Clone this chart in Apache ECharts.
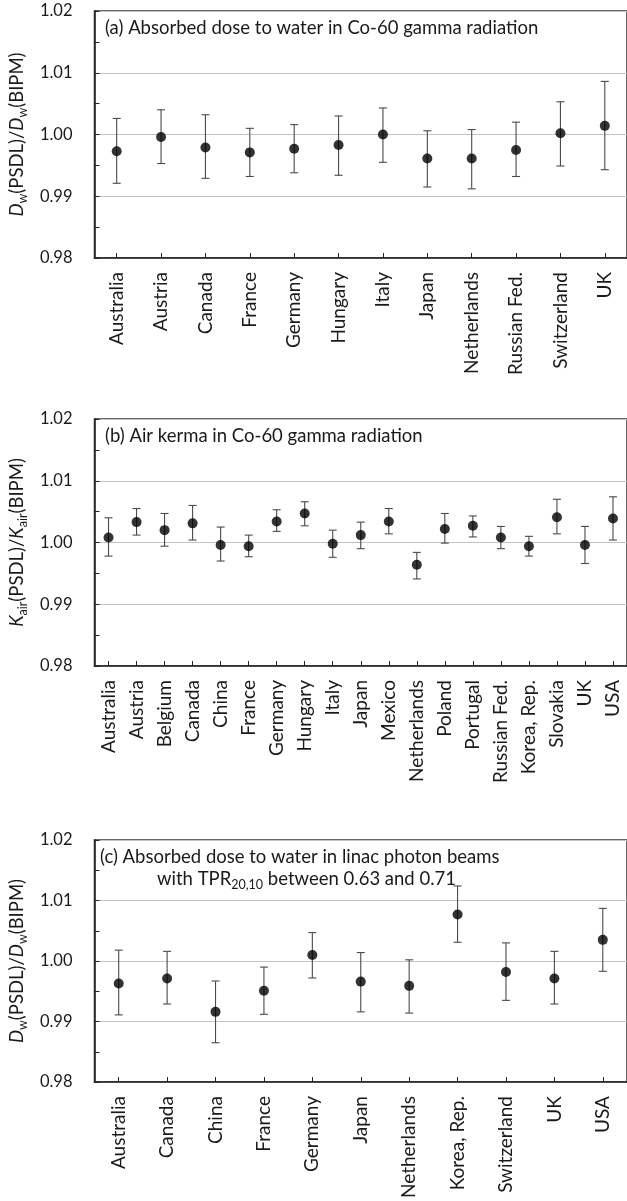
<!DOCTYPE html>
<html><head><meta charset="utf-8">
<script src="https://cdn.jsdelivr.net/npm/echarts@6/dist/echarts.min.js"></script>
<style>html,body{margin:0;padding:0;background:#fff}#c{width:627px;height:1201px}</style>
</head><body><div id="c"></div>
<script>
// Panel (a): Absorbed dose to water in Co-60 gamma radiation
const catsA = ['Australia','Austria','Canada','France','Germany','Hungary','Italy','Japan','Netherlands','Russian Fed.','Switzerland','UK'];
const valA  = [0.9973, 0.9996, 0.9979, 0.9971, 0.9977, 0.9983, 1.0000, 0.9961, 0.9961, 0.9975, 1.0002, 1.0014];
const lowA  = [0.9921, 0.9953, 0.9929, 0.9932, 0.9938, 0.9934, 0.9955, 0.9915, 0.9912, 0.9932, 0.9949, 0.9943];
const highA = [1.0026, 1.0040, 1.0032, 1.0010, 1.0016, 1.0030, 1.0043, 1.0006, 1.0008, 1.0020, 1.0053, 1.0086];

// Panel (b): Air kerma in Co-60 gamma radiation
const catsB = ['Australia','Austria','Belgium','Canada','China','France','Germany','Hungary','Italy','Japan','Mexico','Netherlands','Poland','Portugal','Russian Fed.','Korea, Rep.','Slovakia','UK','USA'];
const valB  = [1.0008, 1.0033, 1.0020, 1.0031, 0.9996, 0.9994, 1.0034, 1.0047, 0.9998, 1.0012, 1.0034, 0.9964, 1.0022, 1.0027, 1.0008, 0.9994, 1.0041, 0.9996, 1.0039];
const lowB  = [0.9978, 1.0012, 0.9994, 1.0004, 0.9970, 0.9977, 1.0018, 1.0027, 0.9976, 0.9990, 1.0014, 0.9941, 0.9999, 1.0009, 0.9990, 0.9978, 1.0014, 0.9966, 1.0004];
const highB = [1.0040, 1.0055, 1.0047, 1.0060, 1.0025, 1.0012, 1.0053, 1.0066, 1.0020, 1.0033, 1.0055, 0.9984, 1.0047, 1.0043, 1.0026, 1.0010, 1.0070, 1.0026, 1.0074];

// Panel (c): Absorbed dose to water in linac photon beams
const catsC = ['Australia','Canada','China','France','Germany','Japan','Netherlands','Korea, Rep.','Switzerland','UK','USA'];
const valC  = [0.9963, 0.9971, 0.9916, 0.9951, 1.0010, 0.9966, 0.9959, 1.0077, 0.9982, 0.9971, 1.0035];
const lowC  = [0.9911, 0.9929, 0.9865, 0.9912, 0.9972, 0.9916, 0.9914, 1.0031, 0.9935, 0.9929, 0.9983];
const highC = [1.0018, 1.0016, 0.9967, 0.9990, 1.0047, 1.0014, 1.0002, 1.0124, 1.0030, 1.0016, 1.0087];

const yMin = 0.98, yMax = 1.02, yStep = 0.01;

const FONT = 'Lato';
const TXT = '#1a1a1a';

const grids = [
  {left: 92, top: 11, width: 544, height: 247},
  {left: 92, top: 419, width: 542, height: 247},
  {left: 94, top: 840, width: 545, height: 246}
];

function xAx(i, cats) {
  return {
    type: 'category', gridIndex: i, data: cats,
    boundaryGap: true,
    axisLine: {show: true, lineStyle: {color: '#222', width: 1.5}},
    axisTick: {show: true, inside: true, alignWithLabel: true, length: 5, lineStyle: {color: '#222'}},
    axisLabel: {rotate: 90, fontSize: 19, fontFamily: FONT, color: TXT, margin: 14, interval: 0},
    splitLine: {show: false}
  };
}
const richName = {
  i: {fontStyle: 'italic', fontSize: 18.5, fontFamily: FONT, color: TXT, lineHeight: 23},
  n: {fontSize: 18.5, fontFamily: FONT, color: TXT, lineHeight: 23},
  s: {fontSize: 12.5, fontFamily: FONT, color: TXT, verticalAlign: 'bottom'}
};
function yAx(i, name) {
  return {
    type: 'value', gridIndex: i, min: yMin, max: yMax, interval: yStep,
    name: name, nameLocation: 'middle', nameGap: 63, nameRotate: 90,
    nameTextStyle: {fontSize: 18.5, fontFamily: FONT, color: TXT, rich: richName},
    axisLine: {show: true, lineStyle: {color: '#222', width: 1.5}},
    axisTick: {show: true, inside: true, length: 5, lineStyle: {color: '#222'}},
    minorTick: {show: true, splitNumber: 2, length: 5, lineStyle: {color: '#222'}},
    axisLabel: {fontSize: 16.5, fontFamily: FONT, color: TXT, margin: 22,
      formatter: v => v.toFixed(2)},
    splitLine: {show: true, lineStyle: {color: '#c4c4c4', width: 1.2}}
  };
}
function errSeries(i, low, high) {
  return {
    type: 'custom', xAxisIndex: i, yAxisIndex: i, z: 2, silent: true,
    data: low.map((l, k) => [k, l, high[k]]),
    encode: {x: 0, y: [1, 2]},
    renderItem: (params, api) => {
      const x = api.value(0);
      const lo = api.coord([x, api.value(1)]);
      const hi = api.coord([x, api.value(2)]);
      const w = 4;
      const st = {stroke: '#4a4a4a', lineWidth: 1.1};
      return {type: 'group', children: [
        {type: 'line', shape: {x1: lo[0], y1: lo[1], x2: hi[0], y2: hi[1]}, style: st},
        {type: 'line', shape: {x1: lo[0] - w, y1: lo[1], x2: lo[0] + w, y2: lo[1]}, style: st},
        {type: 'line', shape: {x1: hi[0] - w, y1: hi[1], x2: hi[0] + w, y2: hi[1]}, style: st}
      ]};
    }
  };
}
function ptSeries(i, vals) {
  return {
    type: 'scatter', xAxisIndex: i, yAxisIndex: i, z: 3, silent: true,
    data: vals.map((v, k) => [k, v]),
    symbol: 'circle', symbolSize: 10,
    itemStyle: {color: '#000'}
  };
}

const nameD = '{i|D}{s|w}{n|(PSDL)/}{i|D}{s|w}{n|(BIPM)}';
const nameK = '{i|K}{s|air}{n|(PSDL)/}{i|K}{s|air}{n|(BIPM)}';

const titleStyle = {fontSize: 18.5, fontFamily: FONT, fill: TXT};

const option = {
  backgroundColor: '#fff',
  animation: false,
  grid: grids.map(g => Object.assign({show: true, borderColor: '#333', borderWidth: 1.5, backgroundColor: 'transparent'}, g)),
  xAxis: [xAx(0, catsA), xAx(1, catsB), xAx(2, catsC)],
  yAxis: [yAx(0, nameD), yAx(1, nameK), yAx(2, nameD)],
  series: [
    errSeries(0, lowA, highA), ptSeries(0, valA),
    errSeries(1, lowB, highB), ptSeries(1, valB),
    errSeries(2, lowC, highC), ptSeries(2, valC)
  ],
  graphic: [
    {type: 'text', left: 105, top: 19, style: Object.assign({text: '(a) Absorbed dose to water in Co-60 gamma radiation'}, titleStyle)},
    {type: 'text', left: 105, top: 427, style: Object.assign({text: '(b) Air kerma in Co-60 gamma radiation'}, titleStyle)},
    {type: 'text', left: 100, top: 848, style: Object.assign({text: '(c) Absorbed dose to water in linac photon beams'}, titleStyle)},
    {type: 'text', left: 157, top: 870, style: Object.assign({
      text: '{n|with TPR}{s|20,10}{n| between 0.63 and 0.71}',
      rich: {
        n: {fontSize: 18.5, fontFamily: FONT, fill: TXT, lineHeight: 23},
        s: {fontSize: 12.5, fontFamily: FONT, fill: TXT, verticalAlign: 'bottom'}
      }
    }, titleStyle)}
  ]
};
const chart = echarts.init(document.getElementById('c'), null, {renderer: 'canvas'});
chart.setOption(option);
</script></body></html>
